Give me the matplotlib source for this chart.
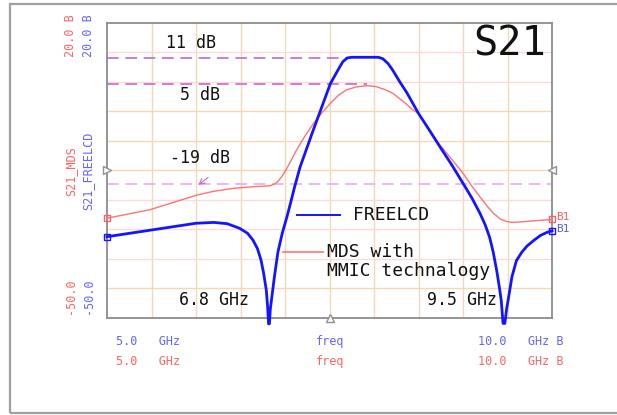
import matplotlib
matplotlib.use("Agg")
import matplotlib.pyplot as plt
from matplotlib.lines import Line2D
from matplotlib.patches import Rectangle

# ---------------- data ----------------
freq_blue = [5.00, 5.50, 6.00, 6.20, 6.35, 6.49, 6.58, 6.64, 6.69, 6.73, 6.76, 6.79, 6.805, 6.815,
             6.825, 6.835, 6.85, 6.88, 6.92, 6.97, 7.02, 7.06, 7.11, 7.17, 7.31, 7.51, 7.60, 7.65,
             7.70, 7.75, 8.05, 8.10, 8.16, 8.21, 8.29, 8.37, 8.50, 8.62, 8.74, 8.87, 9.00, 9.10,
             9.19, 9.25, 9.30, 9.34, 9.38, 9.41, 9.43, 9.45, 9.47, 9.49, 9.51, 9.55, 9.60, 9.66,
             9.72, 9.80, 9.87, 9.94, 10.00]
s21_freelcd = [-30.8, -29.2, -27.6, -27.4, -27.7, -28.8, -30.0, -31.6, -33.6, -36.3, -39.5, -43.5, -47.5, -51.5,
               -51.5, -48.0, -45.5, -40.5, -34.5, -29.9, -26.2, -23.0, -18.8, -14.2, -5.9, 5.6, 9.0, 10.8,
               11.7, 11.85, 11.85, 11.5, 10.3, 8.8, 6.0, 3.4, -1.5, -5.4, -9.4, -13.6, -18.1, -21.6,
               -25.2, -28.0, -31.0, -34.5, -39.0, -43.0, -46.0, -51.4, -51.4, -48.0, -45.5, -40.3, -36.5, -34.5,
               -33.0, -31.6, -30.5, -29.8, -29.4]

freq_red = [5.00, 5.48, 6.01, 6.20, 6.42, 6.65, 6.83, 6.88, 6.92, 6.97, 7.02, 7.06, 7.13, 7.22,
            7.32, 7.42, 7.51, 7.60, 7.69, 7.80, 7.92, 8.02, 8.12, 8.21, 8.32, 8.44, 8.50, 8.62,
            8.74, 8.87, 9.00, 9.10, 9.19, 9.27, 9.34, 9.42, 9.49, 9.57, 9.64, 9.80, 10.00]
s21_mds = [-26.4, -24.4, -20.9, -20.0, -19.3, -18.9, -18.7, -18.3, -17.7, -16.3, -14.6, -13.0, -10.2, -7.0,
           -3.9, -1.2, 0.9, 2.8, 4.1, 4.8, 5.1, 4.9, 4.2, 3.3, 1.5, -0.7, -1.5, -5.3,
           -9.0, -12.3, -15.7, -18.8, -21.3, -23.5, -25.2, -26.6, -27.2, -27.4, -27.3, -27.0, -26.7]

marker_levels = [11.7, 5.4, -18.3]          # dashed marker lines (dB, as drawn)
marker_ends = [7.70, 7.92, 10.0]            # frequency where each dashed line stops
marker_labels = ["11 dB", "5 dB", "-19 dB"]
marker_colors = ["#c46ac8", "#c46ac8", "#e6aef0"]

hgrid = [13, 6, -1, -8, -15, -22, -29, -36, -43]
hgrid_col = ["p", "p", "t", "t", "t", "p", "p", "p", "t"]
vgrid = [5.5, 6.0, 6.5, 7.0, 7.5, 8.0, 8.5, 9.0, 9.5]

xmin, xmax = 5.0, 10.0
ymin, ymax = -50.0, 20.0

# ---------------- figure ----------------
W, H = 617, 415
fig = plt.figure(figsize=(W / 100, H / 100), dpi=100)
fig.patch.set_facecolor("white")

def px(x, y):
    return x / W, 1 - y / H

MONO = "DejaVu Sans Mono"

# outer frame
fig.add_artist(Rectangle(px(10, 413), (640 - 10) / W, (413 - 4) / H, transform=fig.transFigure,
                         fill=False, edgecolor="#a0a0a0", linewidth=1.6))

L, R, T, B = 107, 552, 23, 317.5
ax = fig.add_axes([L / W, 1 - B / H, (R - L) / W, (B - T) / H])
ax.set_xlim(xmin, xmax)
ax.set_ylim(ymin, ymax)
ax.set_xticks([])
ax.set_yticks([])
for s in ax.spines.values():
    s.set_color("#8c8c8c")
    s.set_linewidth(1.3)

TAN = "#f2d8b6"
PINK = "#fadada"
for v in vgrid:
    ax.axvline(v, color=TAN, lw=1.0, zorder=0)
for h, c in zip(hgrid, hgrid_col):
    ax.axhline(h, color=PINK if c == "p" else TAN, lw=1.0, zorder=0)

# dashed marker lines
for lev, end, col in zip(marker_levels, marker_ends, marker_colors):
    ax.plot([xmin, end], [lev, lev], color=col, lw=1.2, dashes=(7, 4), zorder=1)

# curves
ax.plot(freq_red, s21_mds, color="#ff7373", lw=1.0, zorder=3)
ax.plot(freq_blue, s21_freelcd, color="#1414ff", lw=2.0, zorder=4, clip_on=False,
        solid_joinstyle="round")

# end markers
for f, v, c in [(freq_red[0], s21_mds[0], "#ff6060"), (freq_red[-1], s21_mds[-1], "#ff6060"),
                (freq_blue[0], s21_freelcd[0], "#1414ff"), (freq_blue[-1], s21_freelcd[-1], "#1414ff")]:
    ax.plot([f], [v], marker="s", ms=5, mfc="none", mec=c, mew=1.0, clip_on=False, zorder=5)

# reference triangles
ax.plot([xmin], [-15], marker=">", ms=6, mfc="white", mec="#909090", clip_on=False, zorder=5)
ax.plot([xmax], [-15], marker="<", ms=6, mfc="white", mec="#909090", clip_on=False, zorder=5)
ax.plot([7.5], [ymin], marker="^", ms=6, mfc="white", mec="#909090", clip_on=False, zorder=5)

# marker labels
lab_pos = [(191, 43), (200, 95), (200, 158)]
for (x, y), t in zip(lab_pos, marker_labels):
    fig.text(*px(x, y), t, ha="center", va="center", family=MONO, fontsize=12, color="#111111")

# small arrow to -19 dB line
ax.annotate("", xy=(6.0, -18.9), xytext=(6.16, -16.3),
            arrowprops=dict(arrowstyle="->", color="#c46ac8", lw=0.8))

fig.text(*px(214, 300), "6.8 GHz", ha="center", va="center", family=MONO, fontsize=12, color="#111111")
fig.text(*px(462, 300), "9.5 GHz", ha="center", va="center", family=MONO, fontsize=12, color="#111111")

# title
fig.text(*px(510, 45), "S21", ha="center", va="center", family=MONO, fontsize=29, color="#111111")

# legend
fig.add_artist(Line2D([297 / W, 340 / W], [1 - 215 / H] * 2, color="#1414ff", lw=1.4))
fig.text(*px(353, 215), "FREELCD", ha="left", va="center", family=MONO, fontsize=13, color="#111111")
fig.add_artist(Line2D([283 / W, 323 / W], [1 - 252 / H] * 2, color="#ff7373", lw=1.2))
fig.text(*px(327, 252), "MDS with", ha="left", va="center", family=MONO, fontsize=13, color="#111111")
fig.text(*px(327, 271), "MMIC technalogy", ha="left", va="center", family=MONO, fontsize=13, color="#111111")

# B1 labels
fig.text(*px(556, 217), "B1", ha="left", va="center", family=MONO, fontsize=8, color="#ff6060")
fig.text(*px(556, 229), "B1", ha="left", va="center", family=MONO, fontsize=8, color="#5a5aff")

# axis labels (left, rotated)
RED = "#ff6464"
BLUE = "#6464ff"
fig.text(*px(71, 36), "20.0 B", rotation=90, ha="center", va="center", family=MONO, fontsize=8.5, color=RED)
fig.text(*px(88, 36), "20.0 B", rotation=90, ha="center", va="center", family=MONO, fontsize=8.5, color=BLUE)
fig.text(*px(71, 171), "S21_MDS", rotation=90, ha="center", va="center", family=MONO, fontsize=8.5, color=RED)
fig.text(*px(88, 171), "S21_FREELCD", rotation=90, ha="center", va="center", family=MONO, fontsize=8.5, color=BLUE)
fig.text(*px(71, 296), "-50.0", rotation=90, ha="center", va="center", family=MONO, fontsize=8.5, color=RED)
fig.text(*px(88, 296), "-50.0", rotation=90, ha="center", va="center", family=MONO, fontsize=8.5, color=BLUE)

# bottom labels
for yy, c in [(341, BLUE), (361, RED)]:
    fig.text(*px(116, yy), "5.0   GHz", ha="left", va="center", family=MONO, fontsize=8.5, color=c)
    fig.text(*px(330, yy), "freq", ha="center", va="center", family=MONO, fontsize=8.5, color=c)
    fig.text(*px(478, yy), "10.0   GHz B", ha="left", va="center", family=MONO, fontsize=8.5, color=c)

fig.savefig("out.png", dpi=100)
